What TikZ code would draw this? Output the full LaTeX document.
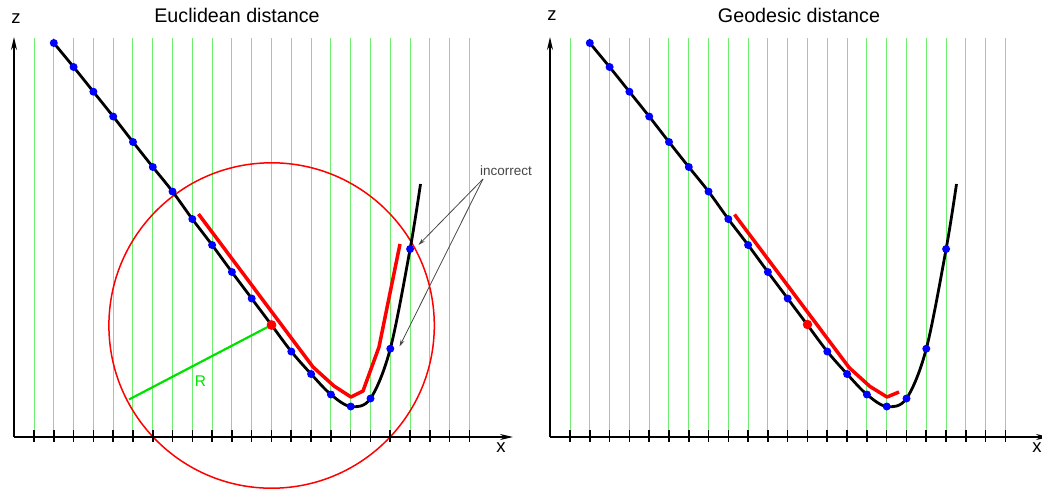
\documentclass[tikz,border=0pt]{standalone}
\usepackage{fontspec}
\setmainfont{Liberation Sans}
\usetikzlibrary{arrows.meta}
\definecolor{gridgreen}{RGB}{110,238,110}
\definecolor{radgreen}{RGB}{0,225,0}
\definecolor{dotblue}{RGB}{0,0,255}
\definecolor{curvered}{RGB}{255,0,0}
\definecolor{notegray}{RGB}{70,70,70}
\tikzset{
  axisline/.style={line width=1.6pt,-{Stealth[length=13pt,width=6pt]}},
  gridline/.style={gridgreen,line width=1pt},
  tickline/.style={line width=1.6pt},
  curveline/.style={line width=2.8pt},
  redline/.style={curvered,line width=3.5pt,line join=round},
  bdot/.style={circle,fill=dotblue,inner sep=0pt,minimum size=8pt},
  rdot/.style={circle,fill=curvered,inner sep=0pt,minimum size=9.5pt},
  titletext/.style={font=\fontsize{19.7}{23}\selectfont},
  axistext/.style={font=\fontsize{18.5}{21}\selectfont},
  notearrow/.style={notegray,line width=0.8pt,-{Stealth[length=7pt,width=4pt]}},
}
\begin{document}
\begin{tikzpicture}[x=1pt,y=-1pt]
\useasboundingbox (0,0) rectangle (1042,491);
% grid lines
\foreach \ox in {0,536}{
  \begin{scope}[xshift=\ox pt]
  \foreach \i in {0,...,22}{
    \draw[gridline] ({34+19.79*\i},38) -- ({34+19.79*\i},437);
  }
  \end{scope}
}
% Euclidean circle
\draw[curvered,line width=1.5pt] (271.6,325.5) circle[radius=162.7];
\foreach \ox/\tx/\zy/\nm/\ttl in {0/237/18.5/L/Euclidean distance,536/799/15.5/R/Geodesic distance}{
  \begin{scope}[xshift=\ox pt]
  \coordinate (O\nm) at (14,437);
  \coordinate (Ztop\nm) at (14,37);
  \coordinate (Xend\nm) at (513,437);
  \draw[axisline] (O\nm) -- (Ztop\nm);
  \draw[axisline] (O\nm) -- (Xend\nm);
  \foreach \i in {0,...,22}{
    \draw[tickline] ({34+19.79*\i},430) -- ({34+19.79*\i},441.5);
  }
  \node[axistext] (zl\nm) at (16,\zy) {z};
  \node[axistext] (xl\nm) at (501,448) {x};
  \node[titletext] (title\nm) at (\tx-\ox,15) {\ttl};
  % black curve
  \draw[curveline] plot[smooth,tension=0.55] coordinates {
    (53.8,43) (73.6,67) (93.4,91.7) (113.2,116.5) (133,142) (152.8,167)
    (172.5,191.5) (192.3,219) (212.1,245) (231.9,272) (251.7,298.5) (271.5,325)
    (291.3,351.5) (311.1,374) (330.9,394.5) (350.7,406.5) (370.5,398.5)
    (390.3,348.7) (410.1,249) (420.5,184)};
  \end{scope}
}
% red paths
\draw[redline] (198.5,214) -- (313,367) -- (334,386) -- (351,397) -- (363,391) -- (379,347) -- (400,244);
\draw[redline] (734.5,214.5) -- (849,367.5) -- (870,386.5) -- (887,397) -- (899,392);
% radius
\coordinate (Rend) at (129,399.5);
\node[rdot] (cL) at (271.5,325) {};
\draw[radgreen,line width=2.2pt] (cL.center) -- (Rend);
\node[rdot] at (271.5,325) {};
\node[radgreen,font=\fontsize{15.5}{17}\selectfont] (Rlab) at (200.5,381) {R};
% blue dots
\foreach \ox/\nm in {0/L,536/R}{
  \begin{scope}[xshift=\ox pt]
  \foreach \x/\y [count=\k] in {53.8/43,73.6/67,93.4/91.7,113.2/116.5,133/142,152.8/167,
    172.5/191.5,192.3/219,212.1/245,231.9/272,251.7/298.5,
    291.3/351.5,311.1/374,330.9/394.5,350.7/406.5,370.5/398.5,390.3/348.7,410.1/249}{
    \node[bdot] (b\nm\k) at (\x,\y) {};
  }
  \end{scope}
}
\node[rdot] (cR) at (807.5,324.5) {};
% incorrect note
\node[notegray,font=\fontsize{13.5}{15}\selectfont] (inc) at (506,170.5) {incorrect};
\coordinate (incbase) at (483,179);
\coordinate (hitA) at (418.5,245);
\coordinate (hitB) at (399.5,346.5);
\draw[notearrow] (incbase) -- (hitA);
\draw[notearrow] (incbase) -- (hitB);
\end{tikzpicture}
\end{document}
